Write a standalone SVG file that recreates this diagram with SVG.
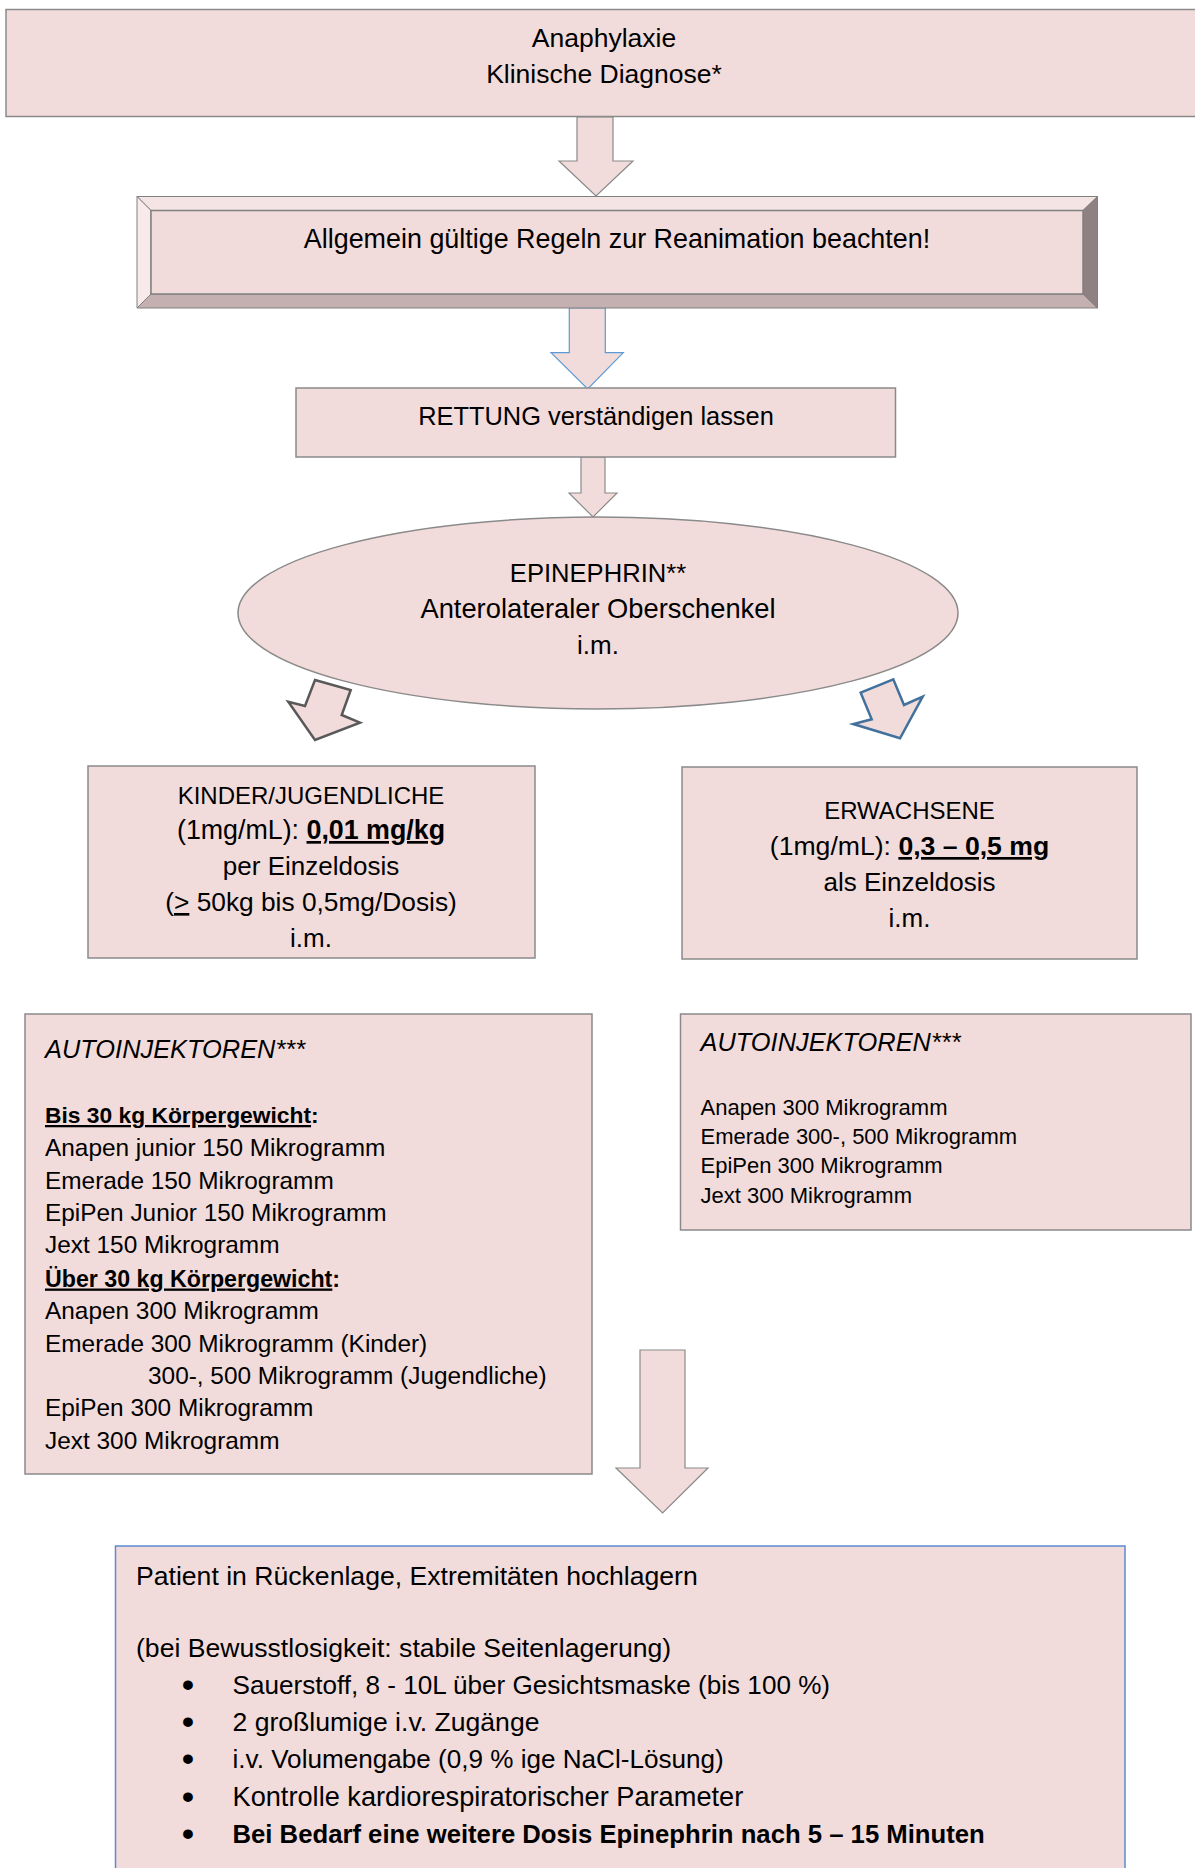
<svg xmlns="http://www.w3.org/2000/svg" width="1195" height="1868" viewBox="0 0 1195 1868">
<style>
  text { font-family: "Liberation Sans", Arial, sans-serif; fill: #000; }
  .box { fill: #f2dcdb; stroke: #8a8a8a; stroke-width: 1.5; }
  .c { text-anchor: middle; font-size: 26px; }
  .arrow { fill: #f2dcdb; stroke: #8a8a8a; stroke-width: 1.2; stroke-linejoin: miter; }
  .b { font-weight: bold; }
  .u { text-decoration: underline; }
  .it { font-style: italic; }
  .l25 { font-size: 24.4px; }
  .l22 { font-size: 22px; }
  .bot { font-size: 26.6px; }
  .bul { font-size: 34px; font-weight: bold; }
</style>
<rect width="1195" height="1868" fill="#ffffff"/>

<g id="connectors">
  <polygon class="arrow" points="577,117 613,117 613,161 633,161 596,196 559,161 577,161"/>
  <polygon class="arrow" style="stroke:#5b9bd5" points="569.3,308 605.3,308 605.3,352.7 623.3,352.7 587.7,389 551,352.7 569.3,352.7"/>
  <polygon class="arrow" points="581,457 605,457 605,493 617,493 593,517 569,493 581,493"/>
  <polygon class="arrow" style="stroke:#595959;stroke-width:2.5" points="315,680 350.7,690 341.7,715 360,722.7 315,740 288.3,701.7 305,706"/>
  <polygon class="arrow" style="stroke:#41719c;stroke-width:2.5" points="860.7,692.7 893.3,679.3 904,705 922.7,696.7 900,738.3 853.3,724 871.7,719.3"/>
  <polygon class="arrow" points="640,1350 685,1350 685,1468 708,1468 662.6,1513 616,1468 640,1468"/>
</g>

<g id="node-anaphylaxie">
  <rect class="box" x="6" y="9.5" width="1200" height="107"/>
  <text class="c" x="604" y="47" style="font-size:26.5px">Anaphylaxie</text>
  <text class="c" x="604" y="83" style="font-size:26.5px">Klinische Diagnose*</text>
</g>

<g id="node-reanimation">
  <polygon points="137,196.5 1097.5,196.5 1083,210.5 151,210.5" fill="#f5e4e4" stroke="#808080" stroke-width="1"/>
  <polygon points="137,196.5 151,210.5 151,294 137,308" fill="#f8eaea" stroke="#808080" stroke-width="1"/>
  <polygon points="151,294 1083,294 1097.5,308 137,308" fill="#c4b0b0" stroke="#808080" stroke-width="1"/>
  <polygon points="1083,210.5 1097.5,196.5 1097.5,308 1083,294" fill="#8f8181" stroke="#808080" stroke-width="1"/>
  <rect x="151" y="210.5" width="932" height="83.5" fill="#f2dcdb" stroke="#808080" stroke-width="1.5"/>
  <text class="c" x="617" y="248" style="font-size:26.9px">Allgemein gültige Regeln zur Reanimation beachten!</text>
</g>

<g id="node-rettung">
  <rect class="box" x="296" y="388" width="599.5" height="69"/>
  <text class="c" x="596" y="425" style="font-size:25.4px">RETTUNG verständigen lassen</text>
</g>

<g id="node-epinephrin">
  <ellipse cx="598" cy="613" rx="360" ry="96" fill="#f2dcdb" stroke="#8a8a8a" stroke-width="1.5"/>
  <text class="c" x="598" y="582" style="font-size:25.6px">EPINEPHRIN**</text>
  <text class="c" x="598" y="618" style="font-size:27.3px">Anterolateraler Oberschenkel</text>
  <text class="c" x="598" y="654">i.m.</text>
</g>

<g id="node-kinder">
  <rect class="box" x="88" y="766" width="447" height="192"/>
  <text class="c" x="311" y="803.5" style="font-size:24px">KINDER/JUGENDLICHE</text>
  <text class="c" x="311" y="839" style="font-size:26.8px">(1mg/mL): <tspan class="b u">0,01 mg/kg</tspan></text>
  <text class="c" x="311" y="875">per Einzeldosis</text>
  <text class="c" x="311" y="911" style="font-size:26.3px">(<tspan class="u">&gt;</tspan> 50kg bis 0,5mg/Dosis)</text>
  <text class="c" x="311" y="946.5">i.m.</text>
</g>

<g id="node-erwachsene">
  <rect class="box" x="682" y="767" width="455" height="192"/>
  <text class="c" x="909.5" y="819" style="font-size:24px">ERWACHSENE</text>
  <text class="c" x="909.5" y="855" style="font-size:26.6px">(1mg/mL): <tspan class="b u">0,3 – 0,5 mg</tspan></text>
  <text class="c" x="909.5" y="890.5">als Einzeldosis</text>
  <text class="c" x="909.5" y="926.5">i.m.</text>
</g>

<g id="node-autoinjektoren-kinder">
  <rect class="box" x="25" y="1014" width="567" height="460"/>
  <text class="it" x="45" y="1058" style="font-size:25.4px">AUTOINJEKTOREN***</text>
  <text class="b" x="45" y="1123" style="font-size:22.8px"><tspan class="u">Bis 30 kg Körpergewicht</tspan>:</text>
  <text class="l25" x="45" y="1156">Anapen junior 150 Mikrogramm</text>
  <text class="l25" x="45" y="1188.5">Emerade 150 Mikrogramm</text>
  <text class="l25" x="45" y="1220.5">EpiPen Junior 150 Mikrogramm</text>
  <text class="l25" x="45" y="1253">Jext 150 Mikrogramm</text>
  <text class="b" x="45" y="1286.5" style="font-size:23.2px"><tspan class="u">Über 30 kg Körpergewicht</tspan>:</text>
  <text class="l25" x="45" y="1319">Anapen 300 Mikrogramm</text>
  <text class="l25" x="45" y="1352">Emerade 300 Mikrogramm (Kinder)</text>
  <text class="l25" x="148" y="1383.5">300-, 500 Mikrogramm (Jugendliche)</text>
  <text class="l25" x="45" y="1416">EpiPen 300 Mikrogramm</text>
  <text class="l25" x="45" y="1449">Jext 300 Mikrogramm</text>
</g>

<g id="node-autoinjektoren-erwachsene">
  <rect class="box" x="680.5" y="1014" width="510.5" height="216"/>
  <text class="it" x="700.5" y="1051" style="font-size:25.4px">AUTOINJEKTOREN***</text>
  <text class="l22" x="700.5" y="1115">Anapen 300 Mikrogramm</text>
  <text class="l22" x="700.5" y="1144">Emerade 300-, 500 Mikrogramm</text>
  <text class="l22" x="700.5" y="1172.5">EpiPen 300 Mikrogramm</text>
  <text class="l22" x="700.5" y="1202.5">Jext 300 Mikrogramm</text>
</g>

<g id="node-massnahmen">
  <rect x="115.5" y="1546" width="1009.5" height="340" fill="#f2dcdb" stroke="#5b8bd0" stroke-width="1.5"/>
  <text class="bot" x="136" y="1584.5">Patient in Rückenlage, Extremitäten hochlagern</text>
  <text class="bot" x="136" y="1657">(bei Bewusstlosigkeit: stabile Seitenlagerung)</text>
  <text class="bul" x="182" y="1695.5">•</text>
  <text class="bot" x="232.5" y="1693.5" style="font-size:26.1px">Sauerstoff, 8 - 10L über Gesichtsmaske (bis 100 %)</text>
  <text class="bul" x="182" y="1733">•</text>
  <text class="bot" x="232.5" y="1731">2 großlumige i.v. Zugänge</text>
  <text class="bul" x="182" y="1770">•</text>
  <text class="bot" x="232.5" y="1768" style="font-size:26.1px">i.v. Volumengabe (0,9 % ige NaCl-Lösung)</text>
  <text class="bul" x="182" y="1807.5">•</text>
  <text class="bot" x="232.5" y="1805.5" style="font-size:27.2px">Kontrolle kardiorespiratorischer Parameter</text>
  <text class="bul" x="182" y="1845">•</text>
  <text class="bot b" x="232.5" y="1843" style="font-size:25.7px">Bei Bedarf eine weitere Dosis Epinephrin nach 5 – 15 Minuten</text>
</g>
</svg>
